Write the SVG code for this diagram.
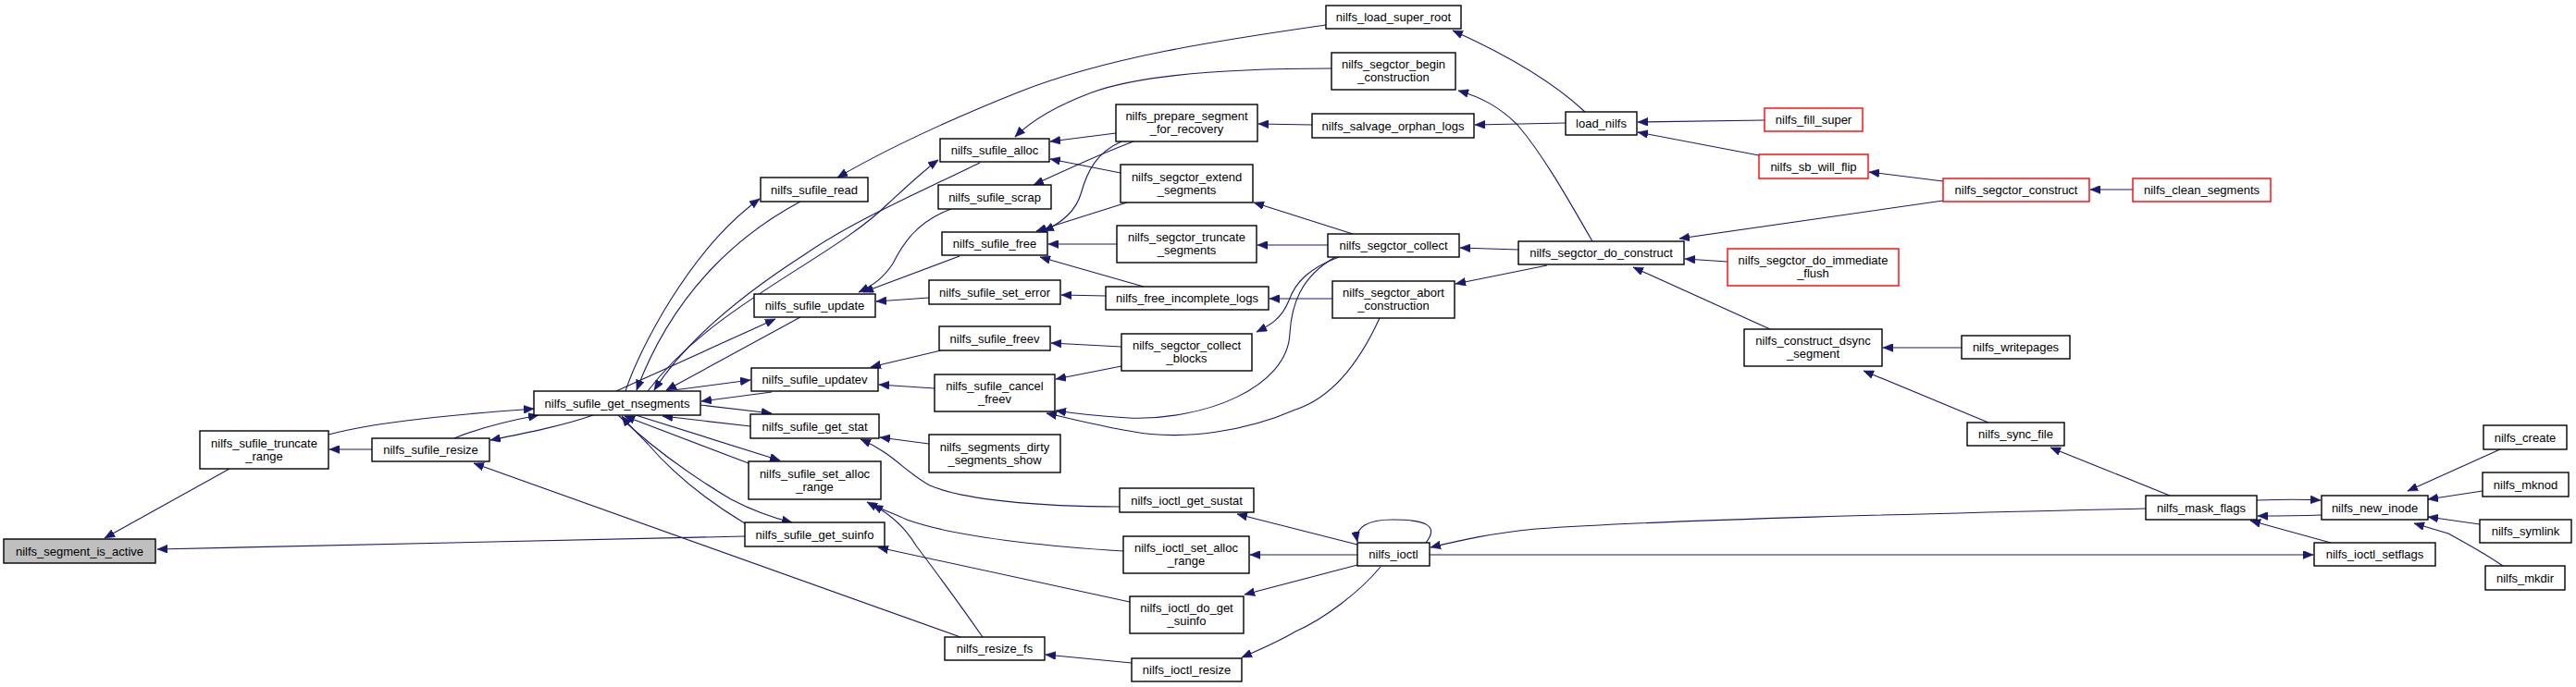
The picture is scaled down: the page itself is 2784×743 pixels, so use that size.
<svg xmlns="http://www.w3.org/2000/svg" width="2784" height="743" viewBox="0 0 2784 743">
<style>
.node rect{fill:#ffffff;stroke:#000000;stroke-width:1.4}
.node.red rect{stroke:#ff0000}
.node.gray rect{fill:#bfbfbf}
.node text{font-family:"Liberation Sans",Arial,sans-serif;font-size:13px;fill:#000000;text-anchor:middle}
.edges path{fill:none;stroke:#191970;stroke-width:1.1;marker-end:url(#ah)}
</style>
<defs>
<marker id="ah" markerUnits="userSpaceOnUse" markerWidth="12" markerHeight="9" refX="11" refY="4.5" orient="auto">
<path d="M0,0 L11,4.5 L0,9 z" fill="#191970" stroke="#191970" stroke-width="0.5"/>
</marker>
</defs>
<rect x="0" y="0" width="2784" height="743" fill="#ffffff"/>
<g id="edges" class="edges">
<path d="M248,507 L113,582"/>
<path d="M805,580 L170,594"/>
<path d="M402,486 L356,486"/>
<path d="M355,470 C400,458 470,450 577,442"/>
<path d="M491,474 C520,462 550,455 582,449"/>
<path d="M641,449 C610,460 570,468 530,476"/>
<path d="M1038,689 L512,501"/>
<path d="M676,423 C690,380 745,270 821,215"/>
<path d="M865,218 C805,250 730,310 688,422"/>
<path d="M700,423 C770,330 900,280 960,220 C985,197 1000,183 1014,173"/>
<path d="M1059,176 C1000,205 920,240 870,275 C800,320 740,370 707,422"/>
<path d="M666,423 L838,345"/>
<path d="M865,343 L720,422"/>
<path d="M1028,226 C990,240 975,265 965,285 C955,300 945,308 928,316"/>
<path d="M1037,277 L933,316"/>
<path d="M1004,322 L947,326"/>
<path d="M1439,74 C1350,74 1240,78 1180,100 C1140,115 1115,130 1097,148"/>
<path d="M1433,27 C1330,42 1200,60 1100,100 C1020,132 960,160 905,192"/>
<path d="M1206,144 L1135,153"/>
<path d="M1211,187 L1135,172"/>
<path d="M1225,153 C1180,170 1150,185 1117,200"/>
<path d="M1212,153 C1185,165 1175,185 1168,210 C1162,230 1145,242 1128,250"/>
<path d="M1218,219 L1120,250"/>
<path d="M1207,264 L1133,264"/>
<path d="M1236,310 L1124,278"/>
<path d="M1195,320 L1147,319"/>
<path d="M1212,375 L1136,371"/>
<path d="M1418,135 L1360,134"/>
<path d="M1462,253 L1355,219"/>
<path d="M1435,265 L1359,265"/>
<path d="M1440,323 L1372,323"/>
<path d="M1447,278 C1415,290 1400,305 1393,325 C1385,345 1372,352 1358,359"/>
<path d="M1443,278 C1405,300 1396,330 1394,360 C1392,420 1300,455 1220,452 C1185,450 1160,447 1141,444"/>
<path d="M1491,344 C1470,390 1440,430 1400,443 C1350,465 1280,478 1220,466 C1185,460 1155,452 1131,447"/>
<path d="M1212,396 L1141,410"/>
<path d="M1010,420 L950,416"/>
<path d="M720,423 L811,411"/>
<path d="M834,424 L758,434"/>
<path d="M1017,379 L941,397"/>
<path d="M757,438 L834,447"/>
<path d="M811,461 L716,450"/>
<path d="M1004,480 L951,473"/>
<path d="M1210,548 C1120,548 1040,540 1005,525 C980,512 965,490 930,475"/>
<path d="M687,449 L843,498"/>
<path d="M809,501 L675,450"/>
<path d="M668,449 C700,480 740,510 790,540 C815,553 835,560 856,565"/>
<path d="M805,566 C770,545 730,515 700,480 C690,470 680,460 672,450"/>
<path d="M1214,596 C1120,590 1030,580 980,562 C965,555 950,550 937,543"/>
<path d="M1062,689 C1035,650 1005,610 990,590 C978,570 962,556 943,546"/>
<path d="M1221,651 L949,592"/>
<path d="M1223,717 L1130,708"/>
<path d="M1713,121 C1680,90 1630,60 1570,33"/>
<path d="M1721,261 C1700,225 1670,170 1640,135 C1620,115 1600,105 1576,98"/>
<path d="M1692,133 L1594,135"/>
<path d="M1907,130 L1770,132"/>
<path d="M1901,168 L1770,143"/>
<path d="M2100,196 L2020,186"/>
<path d="M1641,270 L1578,268"/>
<path d="M1672,287 L1573,307"/>
<path d="M2100,217 L1815,258"/>
<path d="M1867,283 L1821,280"/>
<path d="M1913,356 L1765,289"/>
<path d="M2305,205 L2259,205"/>
<path d="M2120,376 L2035,376"/>
<path d="M2149,457 L2014,401"/>
<path d="M2345,536 L2216,484"/>
<path d="M2319,550 C2100,555 1800,562 1660,572 C1610,577 1580,584 1546,592"/>
<path d="M1545,600 L2500,600"/>
<path d="M1541,587 C1556,568 1540,562 1505,562 C1478,562 1464,570 1467,586"/>
<path d="M1467,589 L1337,556"/>
<path d="M1467,600 L1351,600"/>
<path d="M1467,611 L1345,643"/>
<path d="M1492,613 C1470,640 1430,670 1400,683 C1380,695 1360,703 1342,711"/>
<path d="M2509,557 C2480,558 2460,558 2440,558"/>
<path d="M2439,541 C2470,540 2490,540 2508,541"/>
<path d="M2519,587 L2432,563"/>
<path d="M2702,486 L2602,531"/>
<path d="M2683,531 L2624,540"/>
<path d="M2680,567 L2624,559"/>
<path d="M2705,612 C2680,595 2660,585 2646,577 L2609,566"/>
</g>
<g id="n_segment_is_active" class="node gray"><rect x="4" y="583" width="164" height="26"/><text x="86" y="600.5">nilfs_segment_is_active</text></g>
<g id="n_sufile_truncate_range" class="node"><rect x="216" y="466" width="139" height="41"/><text x="285.5" y="483.5">nilfs_sufile_truncate</text><text x="285.5" y="497.5">_range</text></g>
<g id="n_sufile_resize" class="node"><rect x="402" y="474" width="127" height="25"/><text x="465.5" y="491">nilfs_sufile_resize</text></g>
<g id="n_sufile_get_nsegments" class="node"><rect x="577" y="423" width="180" height="26"/><text x="667" y="440.5">nilfs_sufile_get_nsegments</text></g>
<g id="n_sufile_read" class="node"><rect x="822" y="192" width="116" height="26"/><text x="880" y="209.5">nilfs_sufile_read</text></g>
<g id="n_sufile_alloc" class="node"><rect x="1016" y="150" width="118" height="25"/><text x="1075" y="167">nilfs_sufile_alloc</text></g>
<g id="n_sufile_scrap" class="node"><rect x="1014" y="200" width="122" height="26"/><text x="1075" y="217.5">nilfs_sufile_scrap</text></g>
<g id="n_sufile_free" class="node"><rect x="1018" y="251" width="114" height="25"/><text x="1075" y="268">nilfs_sufile_free</text></g>
<g id="n_sufile_set_error" class="node"><rect x="1004" y="303" width="142" height="26"/><text x="1075" y="320.5">nilfs_sufile_set_error</text></g>
<g id="n_sufile_update" class="node"><rect x="815" y="318" width="131" height="25"/><text x="880.5" y="335">nilfs_sufile_update</text></g>
<g id="n_sufile_freev" class="node"><rect x="1015" y="353" width="120" height="26"/><text x="1075" y="370.5">nilfs_sufile_freev</text></g>
<g id="n_sufile_updatev" class="node"><rect x="812" y="398" width="137" height="25"/><text x="880.5" y="415">nilfs_sufile_updatev</text></g>
<g id="n_sufile_cancel_freev" class="node"><rect x="1010" y="405" width="130" height="40"/><text x="1075" y="422">nilfs_sufile_cancel</text><text x="1075" y="436">_freev</text></g>
<g id="n_sufile_get_stat" class="node"><rect x="811" y="448" width="139" height="26"/><text x="880.5" y="465.5">nilfs_sufile_get_stat</text></g>
<g id="n_segments_dirty_segments_show" class="node"><rect x="1004" y="470" width="142" height="41"/><text x="1075" y="487.5">nilfs_segments_dirty</text><text x="1075" y="501.5">_segments_show</text></g>
<g id="n_sufile_set_alloc_range" class="node"><rect x="809" y="499" width="143" height="41"/><text x="880.5" y="516.5">nilfs_sufile_set_alloc</text><text x="880.5" y="530.5">_range</text></g>
<g id="n_sufile_get_suinfo" class="node"><rect x="805" y="565" width="151" height="26"/><text x="880.5" y="582.5">nilfs_sufile_get_suinfo</text></g>
<g id="n_prepare_segment_for_recovery" class="node"><rect x="1206" y="113" width="153" height="40"/><text x="1282.5" y="130">nilfs_prepare_segment</text><text x="1282.5" y="144">_for_recovery</text></g>
<g id="n_segctor_extend_segments" class="node"><rect x="1211" y="178" width="143" height="41"/><text x="1282.5" y="195.5">nilfs_segctor_extend</text><text x="1282.5" y="209.5">_segments</text></g>
<g id="n_segctor_truncate_segments" class="node"><rect x="1207" y="244" width="151" height="40"/><text x="1282.5" y="261">nilfs_segctor_truncate</text><text x="1282.5" y="275">_segments</text></g>
<g id="n_free_incomplete_logs" class="node"><rect x="1195" y="310" width="176" height="25"/><text x="1283" y="327">nilfs_free_incomplete_logs</text></g>
<g id="n_segctor_collect_blocks" class="node"><rect x="1212" y="361" width="141" height="40"/><text x="1282.5" y="378">nilfs_segctor_collect</text><text x="1282.5" y="392">_blocks</text></g>
<g id="n_ioctl_get_sustat" class="node"><rect x="1210" y="528" width="145" height="26"/><text x="1282.5" y="545.5">nilfs_ioctl_get_sustat</text></g>
<g id="n_ioctl_set_alloc_range" class="node"><rect x="1214" y="580" width="136" height="40"/><text x="1282" y="597">nilfs_ioctl_set_alloc</text><text x="1282" y="611">_range</text></g>
<g id="n_ioctl_do_get_suinfo" class="node"><rect x="1221" y="645" width="123" height="40"/><text x="1282.5" y="662">nilfs_ioctl_do_get</text><text x="1282.5" y="676">_suinfo</text></g>
<g id="n_resize_fs" class="node"><rect x="1021" y="689" width="108" height="25"/><text x="1075" y="706">nilfs_resize_fs</text></g>
<g id="n_ioctl_resize" class="node"><rect x="1223" y="712" width="119" height="25"/><text x="1282.5" y="729">nilfs_ioctl_resize</text></g>
<g id="n_load_super_root" class="node"><rect x="1433" y="6" width="146" height="25"/><text x="1506" y="23">nilfs_load_super_root</text></g>
<g id="n_segctor_begin_construction" class="node"><rect x="1439" y="57" width="134" height="40"/><text x="1506" y="74">nilfs_segctor_begin</text><text x="1506" y="88">_construction</text></g>
<g id="n_salvage_orphan_logs" class="node"><rect x="1418" y="123" width="175" height="26"/><text x="1505.5" y="140.5">nilfs_salvage_orphan_logs</text></g>
<g id="n_segctor_collect" class="node"><rect x="1435" y="253" width="142" height="25"/><text x="1506" y="270">nilfs_segctor_collect</text></g>
<g id="n_segctor_abort_construction" class="node"><rect x="1440" y="304" width="132" height="40"/><text x="1506" y="321">nilfs_segctor_abort</text><text x="1506" y="335">_construction</text></g>
<g id="n_load_nilfs" class="node"><rect x="1692" y="121" width="77" height="25"/><text x="1730.5" y="138">load_nilfs</text></g>
<g id="n_segctor_do_construct" class="node"><rect x="1641" y="261" width="179" height="25"/><text x="1730.5" y="278">nilfs_segctor_do_construct</text></g>
<g id="n_ioctl" class="node"><rect x="1467" y="587" width="78" height="25"/><text x="1506" y="604">nilfs_ioctl</text></g>
<g id="n_fill_super" class="node red"><rect x="1907" y="117" width="106" height="25"/><text x="1960" y="134">nilfs_fill_super</text></g>
<g id="n_sb_will_flip" class="node red"><rect x="1901" y="167" width="118" height="26"/><text x="1960" y="184.5">nilfs_sb_will_flip</text></g>
<g id="n_segctor_do_immediate_flush" class="node red"><rect x="1867" y="269" width="185" height="40"/><text x="1959.5" y="286">nilfs_segctor_do_immediate</text><text x="1959.5" y="300">_flush</text></g>
<g id="n_construct_dsync_segment" class="node"><rect x="1885" y="356" width="149" height="40"/><text x="1959.5" y="373">nilfs_construct_dsync</text><text x="1959.5" y="387">_segment</text></g>
<g id="n_segctor_construct" class="node red"><rect x="2100" y="193" width="158" height="25"/><text x="2179" y="210">nilfs_segctor_construct</text></g>
<g id="n_clean_segments" class="node red"><rect x="2305" y="193" width="149" height="25"/><text x="2379.5" y="210">nilfs_clean_segments</text></g>
<g id="n_writepages" class="node"><rect x="2120" y="363" width="117" height="25"/><text x="2178.5" y="380">nilfs_writepages</text></g>
<g id="n_sync_file" class="node"><rect x="2126" y="457" width="105" height="25"/><text x="2178.5" y="474">nilfs_sync_file</text></g>
<g id="n_mask_flags" class="node"><rect x="2319" y="536" width="120" height="26"/><text x="2379" y="553.5">nilfs_mask_flags</text></g>
<g id="n_new_inode" class="node"><rect x="2509" y="536" width="115" height="26"/><text x="2566.5" y="553.5">nilfs_new_inode</text></g>
<g id="n_ioctl_setflags" class="node"><rect x="2501" y="587" width="131" height="25"/><text x="2566.5" y="604">nilfs_ioctl_setflags</text></g>
<g id="n_create" class="node"><rect x="2684" y="460" width="90" height="26"/><text x="2729" y="477.5">nilfs_create</text></g>
<g id="n_mknod" class="node"><rect x="2683" y="511" width="93" height="26"/><text x="2729.5" y="528.5">nilfs_mknod</text></g>
<g id="n_symlink" class="node"><rect x="2680" y="562" width="99" height="25"/><text x="2729.5" y="579">nilfs_symlink</text></g>
<g id="n_mkdir" class="node"><rect x="2686" y="612" width="86" height="26"/><text x="2729" y="629.5">nilfs_mkdir</text></g>
</svg>
